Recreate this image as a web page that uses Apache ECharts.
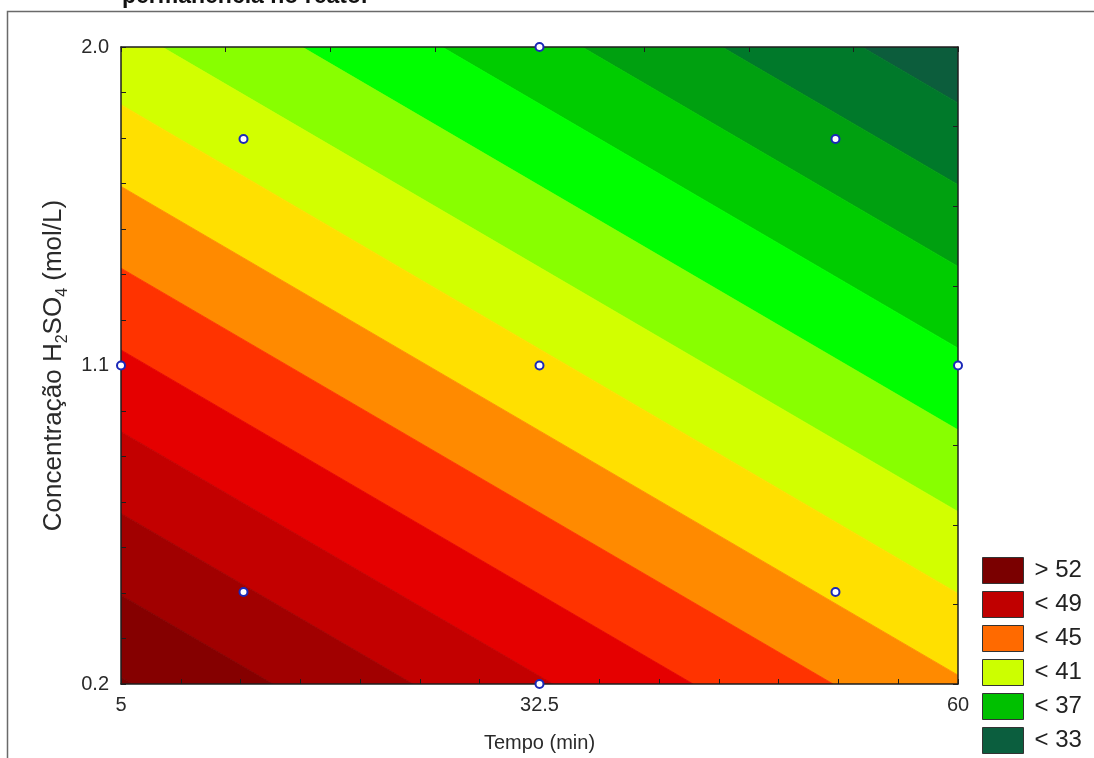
<!DOCTYPE html>
<html><head><meta charset="utf-8">
<script src="https://cdn.jsdelivr.net/npm/echarts@6/dist/echarts.min.js"></script>
<style>html,body{margin:0;padding:0;background:#fff;}#c{width:1094px;height:758px;}</style>
</head><body><div id="c"></div>
<script>
// ---- data ----
const xTicks = [5, 32.5, 60];
const yTicks = [0.2, 1.1, 2.0];
// experimental design points (Tempo, Concentração)
const designX = [13.05, 51.95, 13.05, 51.95, 32.5, 5, 60, 32.5, 32.5];
const designY = [1.74, 1.74, 0.46, 0.46, 1.1, 1.1, 1.1, 0.2, 2.0];
// contour boundaries: where each band edge enters (upper-left end) and leaves (lower-right end) the plot
const boundaryStart = [[53.7,2.0],[44.5,2.0],[35.3,2.0],[26.1,2.0],[16.9,2.0],[7.7,2.0],[5,1.837],[5,1.606],[5,1.375],[5,1.144],[5,0.913],[5,0.682],[5,0.451],[5,0.220]];
const boundaryEnd   = [[60,1.842],[60,1.611],[60,1.380],[60,1.149],[60,0.918],[60,0.687],[60,0.456],[60,0.225],[51.8,0.2],[42.6,0.2],[33.4,0.2],[24.2,0.2],[15.0,0.2],[5.8,0.2]];
// band colours, from the top-right (lowest) band to the bottom-left (highest) band
const bandColors = ['#0c5d3c','#00792a','#00a010','#00cc00','#00ff00','#88ff00','#d2ff00','#ffe000','#ff8a00','#ff3300','#e50000','#c30000','#a10000','#850000','#780000'];
const legendNames  = ['> 52','< 49','< 45','< 41','< 37','< 33'];
const legendColors = ['#7a0000','#c00000','#ff6a00','#ccff00','#00c000','#0b5e3e'];

// ---- geometry helpers ----
function side(i, p) {
  const a = boundaryStart[i], b = boundaryEnd[i];
  return (b[0]-a[0])*(p[1]-a[1]) - (b[1]-a[1])*(p[0]-a[0]);
}
function clipHalf(poly, g) {
  const out = [];
  for (let k = 0; k < poly.length; k++) {
    const a = poly[k], b = poly[(k+1) % poly.length];
    const ga = g(a), gb = g(b);
    if (ga >= 0) out.push(a);
    if ((ga >= 0) !== (gb >= 0)) {
      const t = ga / (ga - gb);
      out.push([a[0] + (b[0]-a[0])*t, a[1] + (b[1]-a[1])*t]);
    }
  }
  return out;
}
function bandPolygon(i) {
  let poly = [[xTicks[0], yTicks[0]], [xTicks[2], yTicks[0]], [xTicks[2], yTicks[2]], [xTicks[0], yTicks[2]]];
  const n = boundaryStart.length;
  if (i > 0) poly = clipHalf(poly, p => -side(i-1, p));
  if (i < n && poly.length) poly = clipHalf(poly, p => side(i, p));
  return poly;
}

const chart = echarts.init(document.getElementById('c'), null, {renderer: 'canvas'});
const FONT = "'Liberation Sans', Arial, Helvetica, sans-serif";
const axisCol = '#1e1e1e';
const tickCommon = {show: true, inside: true, length: 5, lineStyle: {color: axisCol, width: 1}};

const series = [{
  type: 'custom',
  z: 1,
  clip: true,
  xAxisIndex: 0, yAxisIndex: 0,
  encode: {x: 0, y: 1},
  data: bandColors.map((c, i) => [xTicks[0], yTicks[0], i]),
  renderItem: function (params, api) {
    const i = api.value(2);
    const poly = bandPolygon(i);
    if (poly.length < 3) return null;
    return {
      type: 'polygon',
      shape: {points: poly.map(p => api.coord(p))},
      style: {fill: bandColors[i], stroke: bandColors[i], lineWidth: 0.8}
    };
  }
}, {
  type: 'scatter',
  z: 10,
  clip: false,
  xAxisIndex: 0, yAxisIndex: 0,
  symbol: 'circle',
  symbolSize: 8,
  itemStyle: {color: '#ffffff', borderColor: '#1a28b8', borderWidth: 2, opacity: 1},
  data: designX.map((x, i) => [x, designY[i]])
}];
legendNames.forEach((n, i) => {
  series.push({type: 'scatter', name: n, data: [], xAxisIndex: 0, yAxisIndex: 0,
    itemStyle: {color: legendColors[i], opacity: 1}});
});

chart.setOption({
  animation: false,
  backgroundColor: '#ffffff',
  textStyle: {fontFamily: FONT},
  grid: {left: 121, top: 47, width: 837, height: 639, containLabel: false},
  xAxis: [{
    type: 'value', position: 'bottom', min: xTicks[0], max: xTicks[2], interval: xTicks[1] - xTicks[0],
    z: 5,
    axisLine: {show: true, lineStyle: {color: axisCol, width: 1.5}},
    axisTick: tickCommon,
    minorTick: {show: true, splitNumber: 7, length: 5, lineStyle: {color: axisCol, width: 1}},
    splitLine: {show: false},
    axisLabel: {fontSize: 20, color: '#2a2a2a', margin: 11, fontFamily: FONT,
      formatter: v => String(Math.round(v * 10) / 10)},
    name: 'Tempo (min)', nameLocation: 'middle', nameGap: 49,
    nameTextStyle: {fontSize: 20, color: '#2a2a2a', fontFamily: FONT}
  }, {
    type: 'value', position: 'top', min: 0, max: 8, interval: 1, z: 5,
    axisLine: {show: true, lineStyle: {color: axisCol, width: 1.5}},
    axisTick: tickCommon, axisLabel: {show: false}, splitLine: {show: false}
  }],
  yAxis: [{
    type: 'value', position: 'left', min: yTicks[0], max: yTicks[2], interval: yTicks[1] - yTicks[0],
    z: 5,
    axisLine: {show: true, lineStyle: {color: axisCol, width: 1.5}},
    axisTick: tickCommon,
    minorTick: {show: true, splitNumber: 7, length: 5, lineStyle: {color: axisCol, width: 1}},
    splitLine: {show: false},
    axisLabel: {fontSize: 20, color: '#2a2a2a', margin: 12, fontFamily: FONT,
      formatter: v => v.toFixed(1)},
    name: 'Concentração H{sub|2}SO{sub|4} (mol/L)', nameLocation: 'middle', nameGap: 48,
    nameTextStyle: {fontSize: 26, color: '#2a2a2a', fontFamily: FONT, lineHeight: 32,
      rich: {sub: {fontSize: 16, verticalAlign: 'bottom', lineHeight: 32, color: '#2a2a2a', fontFamily: FONT}}}
  }, {
    type: 'value', position: 'right', min: 0, max: 8, interval: 1, z: 5,
    axisLine: {show: true, lineStyle: {color: axisCol, width: 1.5}},
    axisTick: tickCommon, axisLabel: {show: false}, splitLine: {show: false}
  }],
  legend: {
    data: legendNames,
    orient: 'vertical', left: 982, top: 557, padding: 0,
    icon: 'rect', itemWidth: 41, itemHeight: 26, itemGap: 7,
    selectedMode: false,
    itemStyle: {borderColor: '#333', borderWidth: 1, opacity: 1},
    textStyle: {fontSize: 24, color: '#222', fontFamily: FONT, padding: [0, 0, 0, 6]}
  },
  graphic: [{
    type: 'rect', silent: true, z: 0,
    shape: {x: 7.5, y: 11.5, width: 1200, height: 1000},
    style: {fill: null, stroke: '#6a6a6a', lineWidth: 1.5}
  }, {
    type: 'text', silent: true, left: 122, top: -15,
    style: {text: 'permanência no reator', font: "bold 23px " + FONT, fill: '#111'}
  }],
  series: series
});
</script>
</body></html>
